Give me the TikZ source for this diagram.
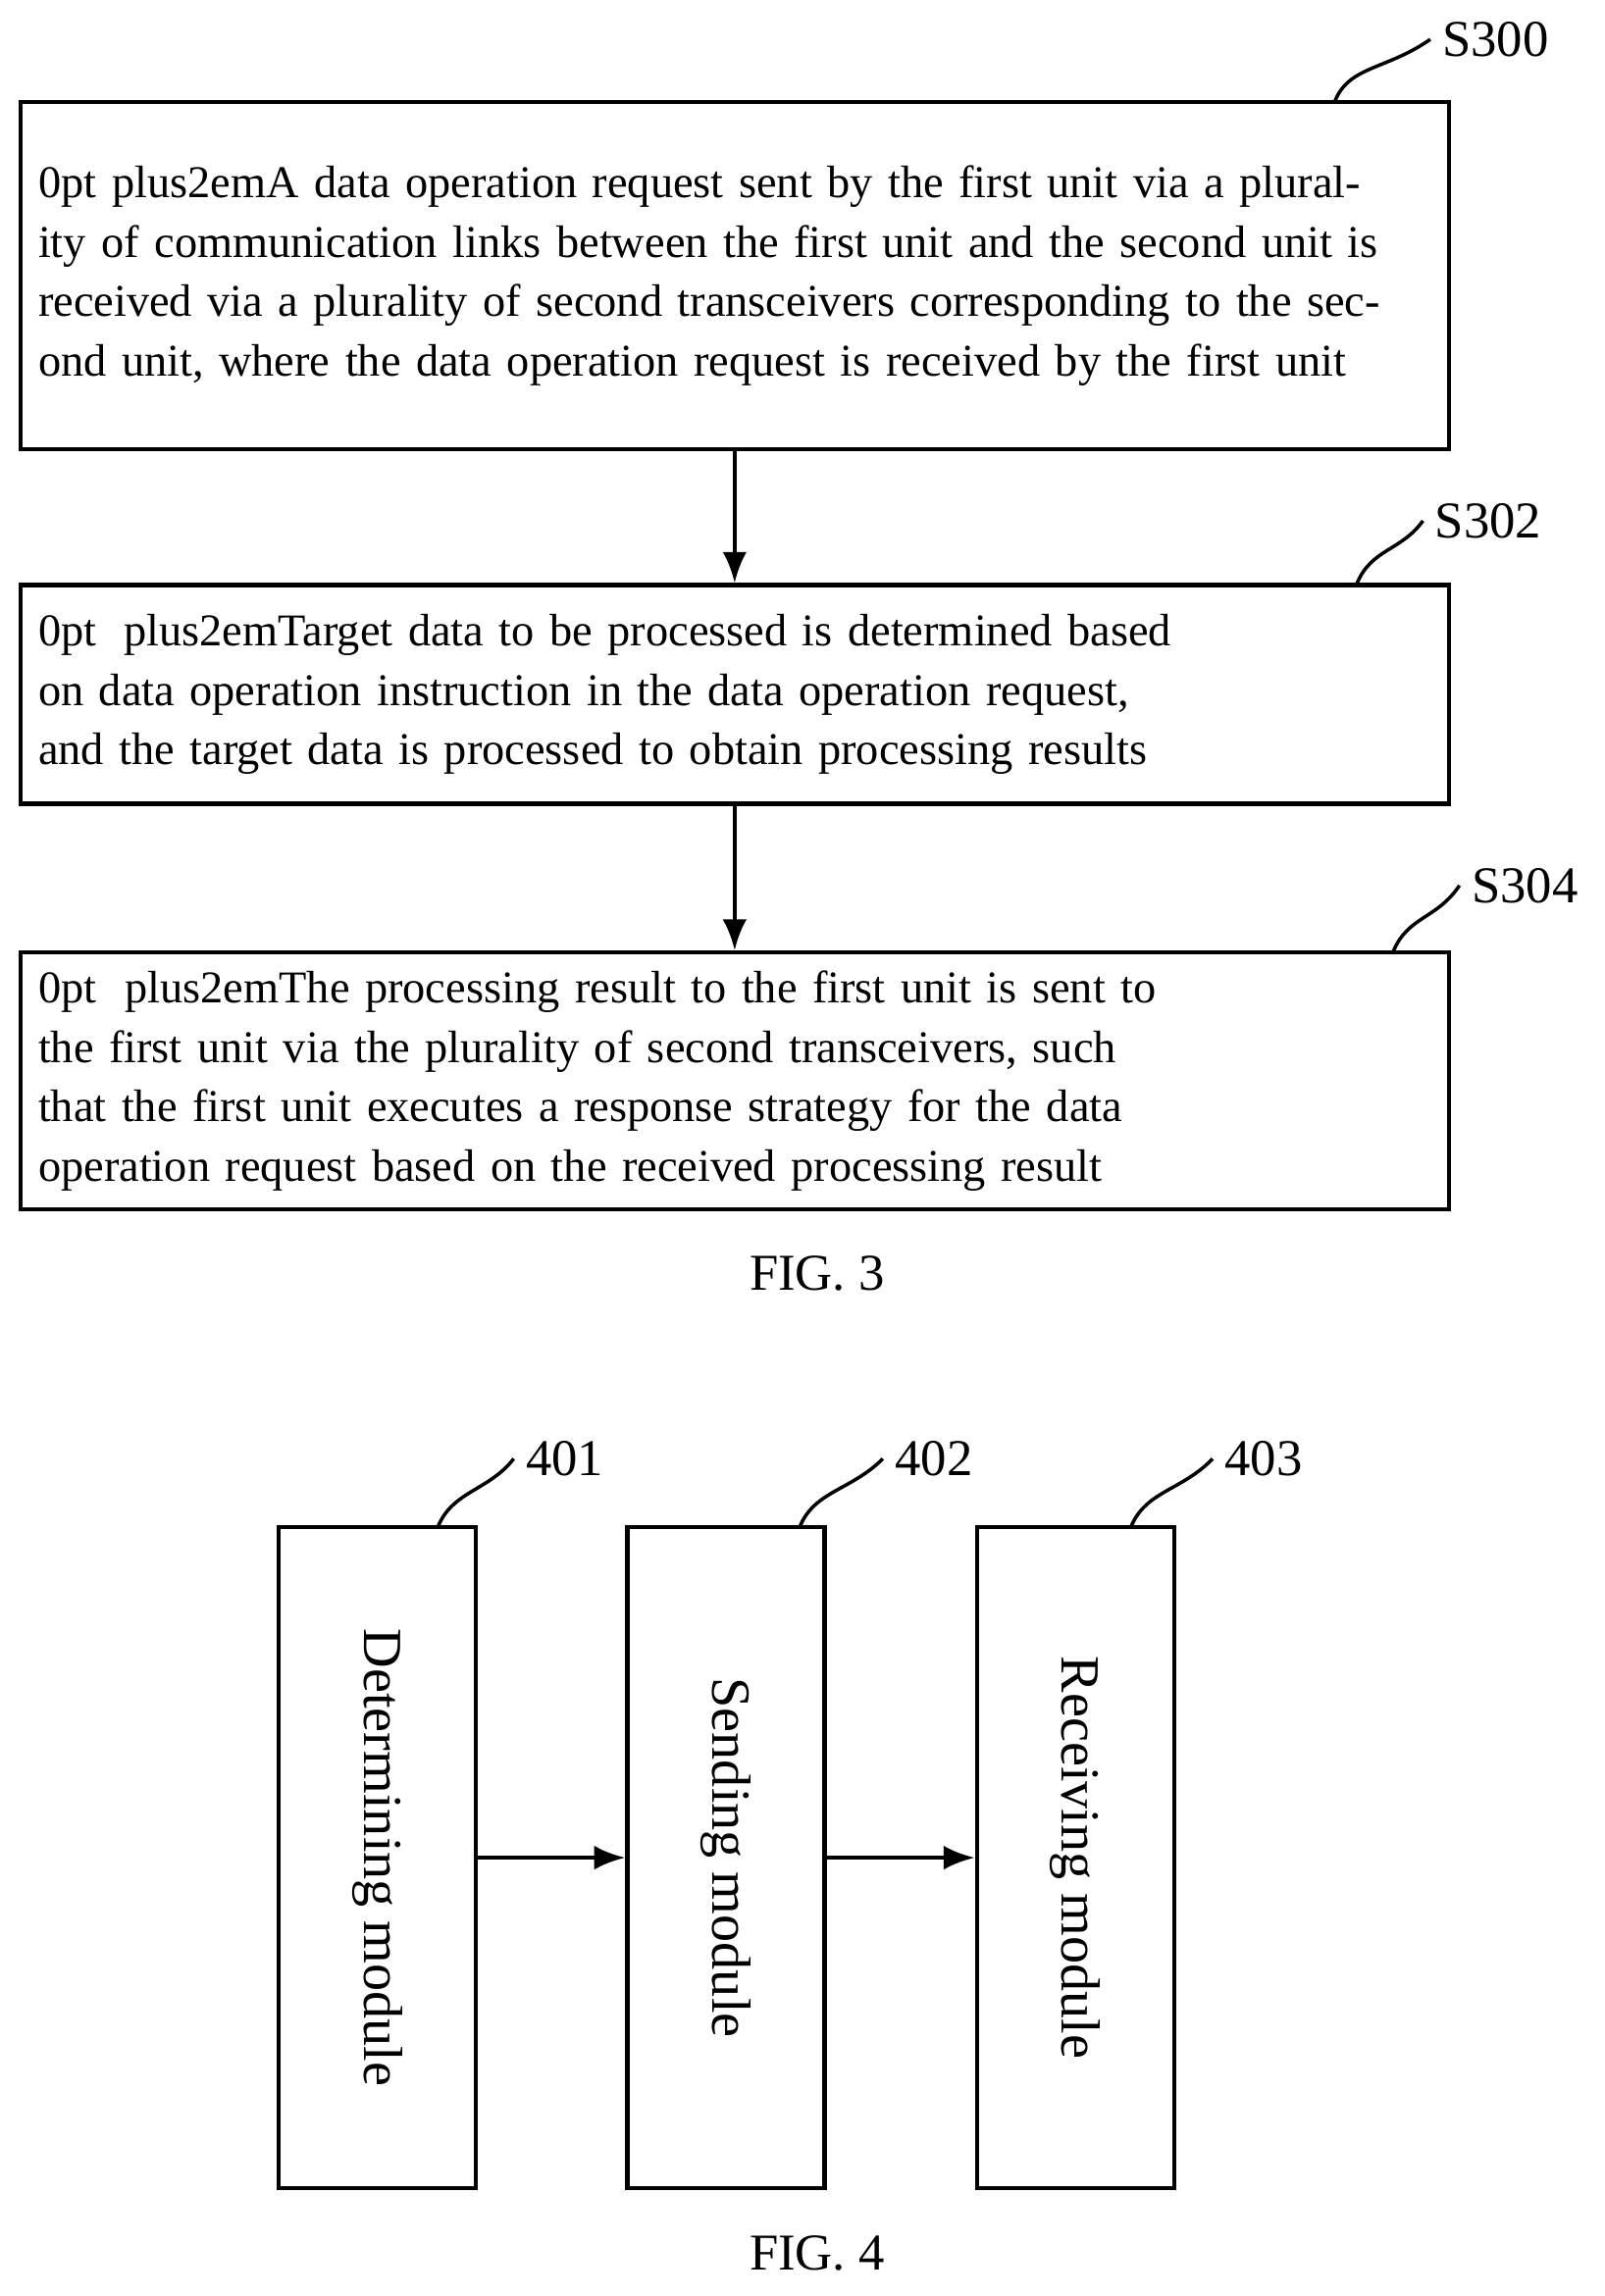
\documentclass[tikz,border=0pt]{standalone}
\usepackage{fontspec}
\setmainfont{Liberation Serif}
\usetikzlibrary{positioning,arrows.meta}
\tikzset{
  stepbox/.style={draw, line width=1.2pt, align=center, text width=14.2cm,
    minimum width=14.56cm, inner sep=0pt,
    font=\fontsize{13.2}{17.2}\selectfont\hyphenpenalty=10000},
  mod/.style={draw, line width=1.2pt, minimum width=2.01cm, minimum height=6.74cm},
  lbl/.style={font=\fontsize{15}{18}\selectfont},
  arr/.style={-{Latex[length=9pt,width=7pt]}, line width=1.2pt},
  tick/.style={line width=1pt}
}
\begin{document}
\begin{tikzpicture}[x=0.014873cm, y=-0.014873cm]
        \useasboundingbox (0,0) rectangle (1100,1574);

        \node [stepbox, minimum height=3.54cm] (s300) at (503.5,189) {A data operation request sent by the first unit via a plurality of communication links between the first unit and the second unit is received via a plurality of second transceivers corresponding to the second unit, where the data operation request is received by the first unit};
        \node [stepbox, minimum height=2.23cm] (s302) at (503.5,476) {Target data to be processed is determined based on data operation instruction in the data operation request, and the target data is processed to obtain processing results};
        \node [stepbox, minimum height=2.62cm] (s304) at (503.5,741) {The processing result to the first unit is sent to the first unit via the plurality of second transceivers, such that the first unit executes a response strategy for the data operation request based on the received processing result};

        \draw [arr] (s300) -- (s302);
        \draw [arr] (s302) -- (s304);

        \node [lbl] (l300) at (1025,27) {S300};
        \node [lbl] (l302) at (1020,357) {S302};
        \node [lbl] (l304) at (1045,607) {S304};
        \coordinate (c300) at (915,69);
        \coordinate (c302) at (930,400);
        \coordinate (c304) at (955,652);
        \draw [tick] (c300) .. controls (925,45) and (950,48) .. (l300.west);
        \draw [tick] (c302) .. controls (940,376) and (960,378) .. (l302.west);
        \draw [tick] (c304) .. controls (965,628) and (985,630) .. (l304.west);

        \node [lbl] (fig3) at (560,873) {FIG. 3};

        \node [mod] (m401) at (258.5,1273.5) {};
        \node [mod] (m402) at (497.5,1273.5) {};
        \node [mod] (m403) at (737,1273.5) {};
        \node [rotate=-90, font=\fontsize{16}{19}\selectfont] (t401) at (m401) {Determining module};
        \node [rotate=-90, font=\fontsize{16}{19}\selectfont] (t402) at (m402) {Sending module};
        \node [rotate=-90, font=\fontsize{16}{19}\selectfont] (t403) at (m403) {Receiving module};

        \draw [arr] (m401) -- (m402);
        \draw [arr] (m402) -- (m403);

        \node [lbl] (l401) at (387,1000) {401};
        \node [lbl] (l402) at (640,1000) {402};
        \node [lbl] (l403) at (866,1000) {403};
        \coordinate (c401) at (300,1047);
        \coordinate (c402) at (548,1047);
        \coordinate (c403) at (775,1047);
        \draw [tick] (c401) .. controls (310,1022) and (335,1022) .. (l401.west);
        \draw [tick] (c402) .. controls (558,1022) and (583,1022) .. (l402.west);
        \draw [tick] (c403) .. controls (785,1022) and (810,1022) .. (l403.west);

        \node [lbl] (fig4) at (560,1545) {FIG. 4};
    \end{tikzpicture}
\end{document}
